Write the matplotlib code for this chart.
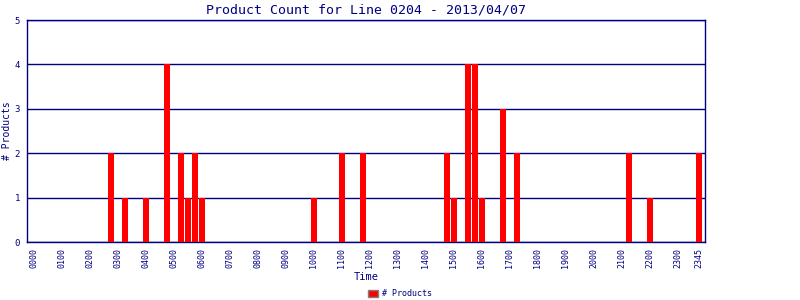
import numpy as np
import matplotlib
matplotlib.use("Agg")
import matplotlib.pyplot as plt
from matplotlib.patches import Patch

navy = '#000080'

# 15-minute slots through the day, and products counted in each non-empty slot
slot_times = ['0245', '0315', '0400', '0445', '0515', '0530', '0545', '0600',
              '1000', '1100', '1145', '1445', '1500', '1530', '1545', '1600',
              '1645', '1715', '2115', '2200', '2345']
slot_counts = [2, 1, 1, 4, 2, 1, 2, 1,
               1, 2, 2, 2, 1, 4, 4, 1,
               3, 2, 2, 1, 2]

tick_labels = ['%02d00' % h for h in range(24)] + ['2345']

def slot_index(t):
    return int(t[:2]) * 4 + int(t[2:]) // 15

all_slots = ['%02d%02d' % (h, m) for h in range(24) for m in (0, 15, 30, 45)]
counts = np.zeros(len(all_slots))
for t, c in zip(slot_times, slot_counts):
    counts[slot_index(t)] = c

plt.rcParams['font.family'] = ['DejaVu Sans Mono']

fig = plt.figure(figsize=(8, 3), dpi=100)
ax = fig.add_axes([27/800, 58/300, 678/800, 222/300])

x = np.arange(len(all_slots))
ax.bar(x, counts, width=6/7, color='#ff0000', zorder=3, linewidth=0)

ax.set_xlim(-1, 95.86)
ax.set_ylim(0, 5)
ax.set_yticks(range(6))
ax.yaxis.grid(True, color=navy, linewidth=1.0, zorder=1)
ax.set_axisbelow(True)

tick_pos = [slot_index(t) for t in tick_labels]
ax.set_xticks(tick_pos)
ax.set_xticklabels(tick_labels, rotation=90, fontsize=6, color=navy)
ax.tick_params(axis='x', length=0, pad=4)
ax.tick_params(axis='y', length=0, pad=5, labelsize=6.5, labelcolor=navy)

for s in ax.spines.values():
    s.set_color(navy)
    s.set_linewidth(1.0)

ax.set_title('Product Count for Line 0204 - 2013/04/07', fontsize=9.5,
             color=navy, pad=5)
ax.set_xlabel('Time', fontsize=7.5, color=navy, labelpad=3)
ax.set_ylabel('# Products', fontsize=7, color=navy, labelpad=2)

handle = Patch(facecolor='#ff0000', edgecolor='#808080', linewidth=1)
fig.legend([handle], ['# Products'], loc='lower center',
           bbox_to_anchor=(0.5, -0.02), frameon=False, fontsize=6,
           labelcolor=navy, handlelength=1.2, handleheight=0.8,
           handletextpad=0.4)

fig.savefig('out.png', dpi=100)
